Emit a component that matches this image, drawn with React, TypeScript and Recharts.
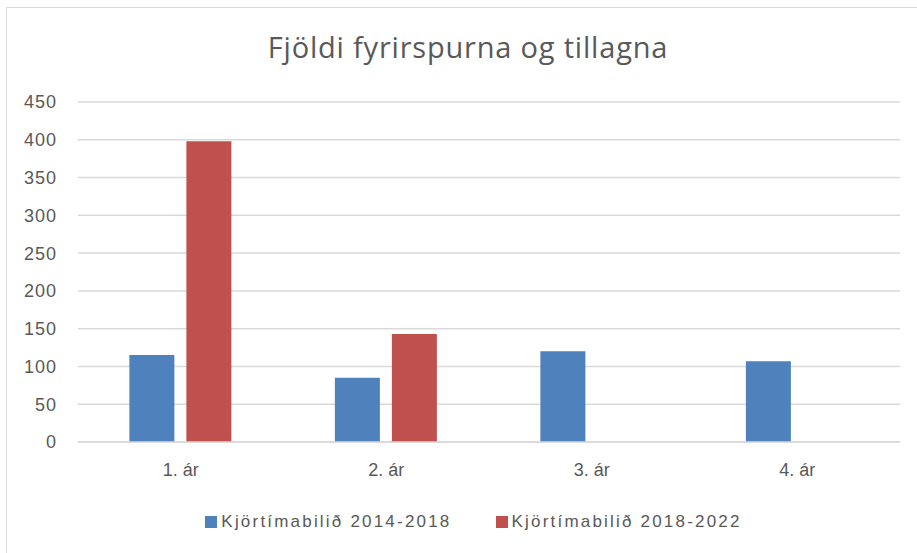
import { BarChart, Bar, XAxis, YAxis, CartesianGrid } from 'recharts';

// Gögn lesin af myndinni
const ar = ['1. ár', '2. ár', '3. ár', '4. ár'];
const timabil2014 = [115, 85, 120, 107];
const timabil2018 = [398, 143, null, null];
const yTicks = [0, 50, 100, 150, 200, 250, 300, 350, 400, 450];

const series = [
  { key: 'k2014', name: 'Kjörtímabilið 2014-2018', color: '#4F81BD' },
  { key: 'k2018', name: 'Kjörtímabilið 2018-2022', color: '#C0504D' },
];

const data = ar.map((a, i) => ({ ar: a, k2014: timabil2014[i], k2018: timabil2018[i] }));

const textColor = '#595959';
const gridColor = '#d9d9d9';
const font = '"Liberation Sans", Arial, sans-serif';

export default function App() {
  return (
    <div style={{ position: 'relative', width: 917, height: 553, background: '#fff', overflow: 'hidden' }}>
      <style>{`body{margin:0}`}</style>
      {/* rammi utan um grafið */}
      <div style={{ position: 'absolute', left: 6, top: 7, width: 930, height: 560, borderTop: `1px solid ${gridColor}`, borderLeft: `1px solid ${gridColor}` }} />

      <svg width={917} height={80} style={{ position: 'absolute', left: 0, top: 0 }}>
        <text x={468} y={58} textAnchor="middle" fill={textColor} fontSize={29} letterSpacing={0.8} fontFamily='"Open Sans", sans-serif'>
          Fjöldi fyrirspurna og tillagna
        </text>
      </svg>

      <BarChart
        width={917}
        height={553}
        data={data}
        margin={{ top: 102, right: 17, bottom: 81, left: 0 }}
        barCategoryGap="25%"
        barGap={12}
        style={{ position: 'absolute', left: 0, top: 0 }}
      >
        <CartesianGrid vertical={false} stroke={gridColor} strokeWidth={1.5} />
        <XAxis
          dataKey="ar"
          height={30}
          axisLine={{ stroke: gridColor, strokeWidth: 1.5 }}
          tickLine={false}
          tickSize={0}
          tickMargin={21}
          tick={{ fontSize: 18, fill: textColor, fontFamily: font }}
        />
        <YAxis
          width={78}
          domain={[0, 450]}
          ticks={yTicks}
          axisLine={false}
          tickLine={false}
          tickSize={0}
          tickMargin={21}
          tick={{ fontSize: 18, fill: textColor, fontFamily: font, letterSpacing: 1 }}
        />
        {series.map((s) => (
          <Bar key={s.key} dataKey={s.key} name={s.name} fill={s.color} isAnimationActive={false} />
        ))}
      </BarChart>

      {/* skýringar */}
      <div style={{ position: 'absolute', left: 0, top: 512, width: 917, display: 'flex', justifyContent: 'center', paddingLeft: 30, boxSizing: 'border-box', gap: 44, fontFamily: font, fontSize: 17, letterSpacing: 2.2, color: textColor }}>
        {series.map((s) => (
          <div key={s.key} style={{ display: 'flex', alignItems: 'center', gap: 4 }}>
            <span style={{ width: 12, height: 12, background: s.color, display: 'inline-block' }} />
            <span>{s.name}</span>
          </div>
        ))}
      </div>
    </div>
  );
}
